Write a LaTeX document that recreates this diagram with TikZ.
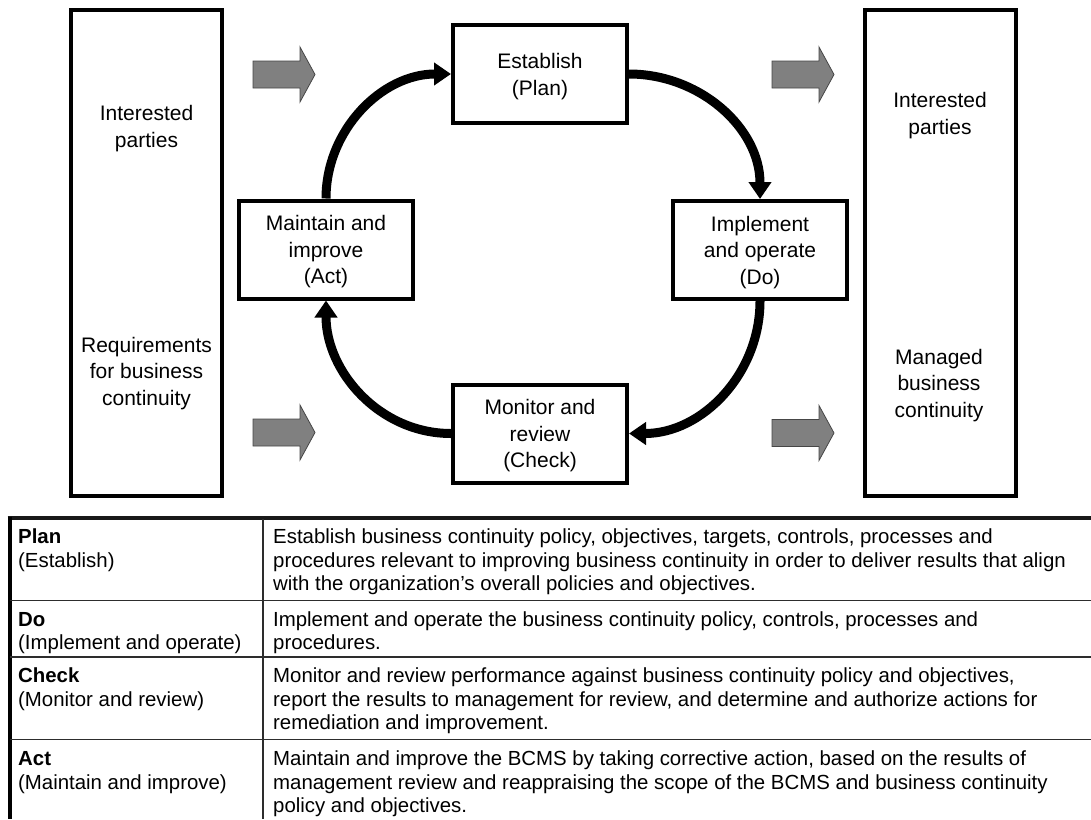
\documentclass[tikz,border=0pt]{standalone}
\usepackage{fontspec}
\setmainfont{Liberation Sans}
\usetikzlibrary{arrows.meta}
\definecolor{arrowgray}{RGB}{128,128,128}
\definecolor{arrowedge}{RGB}{70,70,70}
\definecolor{ruleclr}{RGB}{45,45,45}
\begin{document}
\begin{tikzpicture}[x=1pt,y=1pt,
  tall/.style={draw=black, line width=4pt, minimum width=151pt, minimum height=486pt, inner sep=0pt},
  stage/.style={draw=black, line width=4pt, minimum width=174pt, minimum height=98pt, inner sep=0pt},
  lbl/.style={align=center, inner sep=0pt, font=\fontsize{21}{26.5}\selectfont},
  cyc/.style={line width=9pt, -{Triangle[width=22pt,length=17pt]}},
  tab/.style={anchor=base west, align=left, inner sep=0pt, font=\fontsize{20.4}{23.7}\selectfont},
  thinrule/.style={draw=ruleclr, line width=1.6pt},
  flowarrow/.pic={\filldraw[fill=arrowgray, draw=arrowedge, line width=0.8pt]
     (0,-13.5) -- (47,-13.5) -- (47,-27.5) -- (62,0) -- (47,27.5) -- (47,13.5) -- (0,13.5) -- cycle;}
]
\path[use as bounding box] (0,0) rectangle (1091,-819);

% side boxes
\node[tall] (lbox) at (146.5,-253) {};
\node[tall] (rbox) at (940,-253) {};
\node[lbl] (lip) at (146.5,-128.5) {Interested\\parties};
\node[lbl] (lreq) at (146.5,-373.5) {Requirements\\for business\\continuity};
\node[lbl] (rip) at (940,-115.5) {Interested\\parties};
\node[lbl] (rmbc) at (939,-385.5) {Managed\\business\\continuity};

% grey flow arrows
\pic (ga1) at (253,-74.5) {flowarrow};
\pic (ga2) at (253,-432.5) {flowarrow};
\pic (ga3) at (772,-74.5) {flowarrow};
\pic (ga4) at (772,-433) {flowarrow};

% PDCA stages
\node[stage] (est) at (540,-74) {};
\node[stage] (act) at (326,-249.5) {};
\node[stage] (imp) at (760,-250) {};
\node[stage] (mon) at (540,-433.5) {};
\node[lbl, yshift=-2.5pt] (estl) at (est) {Establish\\(Plan)};
\node[lbl, yshift=-2.5pt] (actl) at (act) {Maintain and\\improve\\(Act)};
\node[lbl, yshift=-2.5pt] (impl) at (imp) {Implement\\and operate\\(Do)};
\node[lbl, yshift=-2.5pt] (monl) at (mon) {Monitor and\\review\\(Check)};

\draw[cyc] (act.north) to[out=90,in=180] (est.west);
\draw[cyc] (est.east) to[out=0,in=90] (imp.north);
\draw[cyc] (imp.south) to[out=-90,in=0] (mon.east);
\draw[cyc] (mon.west) to[out=180,in=-90] (act.south);

% table
\draw[line width=3.5pt, draw=black!90] (7.5,-518) -- (1091,-518);
\draw[line width=4pt, draw=black] (9.5,-516.5) -- (9.5,-819);
\draw[thinrule] (263,-519) -- (263,-819);
\draw[thinrule] (9.5,-600.5) -- (1091,-600.5);
\draw[thinrule] (9.5,-657) -- (1091,-657);
\draw[thinrule] (9.5,-739.5) -- (1091,-739.5);

% (anchor base = baseline of the last line)
\node[tab] (t1a) at (18,-567.2) {\textbf{Plan}\\(Establish)};
\node[tab] (t1b) at (273,-590.9) {Establish business continuity policy, objectives, targets, controls, processes and\\procedures relevant to improving business continuity in order to deliver results that align\\with the organization’s overall policies and objectives.};
\node[tab] (t2a) at (18,-649.7) {\textbf{Do}\\(Implement and operate)};
\node[tab] (t2b) at (273,-649.7) {Implement and operate the business continuity policy, controls, processes and\\procedures.};
\node[tab] (t3a) at (18,-706.2) {\textbf{Check}\\(Monitor and review)};
\node[tab] (t3b) at (273,-729.9) {Monitor and review performance against business continuity policy and objectives,\\report the results to management for review, and determine and authorize actions for\\remediation and improvement.};
\node[tab] (t4a) at (18,-789.2) {\textbf{Act}\\(Maintain and improve)};
\node[tab] (t4b) at (273,-812.9) {Maintain and improve the BCMS by taking corrective action, based on the results of\\management review and reappraising the scope of the BCMS and business continuity\\policy and objectives.};
\end{tikzpicture}
\end{document}
